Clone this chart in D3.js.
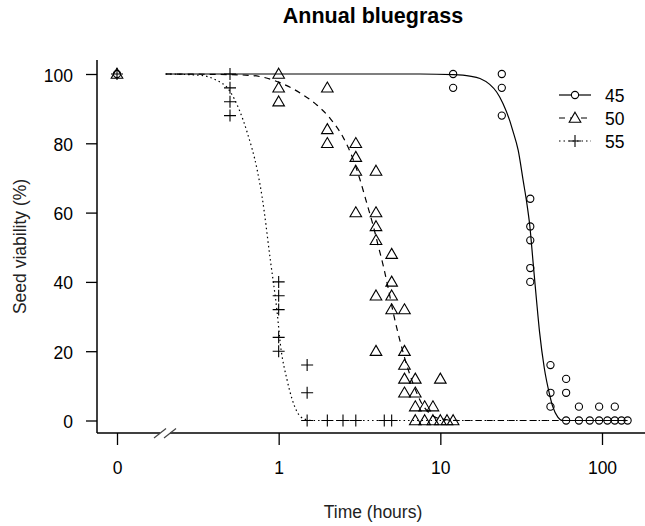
<!DOCTYPE html>
<html>
<head>
<meta charset="utf-8">
<script src="https://cdn.jsdelivr.net/npm/d3@7"></script>
<style>
  body { margin: 0; background: #fff; }
  text { font-family: "Liberation Sans", Arial, sans-serif; fill: #000; }
</style>
</head>
<body>
<div id="container"></div>
<script>
let w = 645;
let h = 526;

// observed points, time in hours (0 = untreated) and viability in %
let times45 = [0, 12, 12, 24, 24, 24, 36, 36, 36, 36, 36, 48, 48, 48, 60, 60, 60, 72, 72, 84, 96, 96, 108, 120, 120, 132, 144];
let via45   = [100, 100, 96, 100, 96, 88, 64, 56, 52, 44, 40, 16, 8, 4, 12, 8, 0, 4, 0, 0, 4, 0, 0, 4, 0, 0, 0];

let times50 = [0, 1, 1, 1, 2, 2, 2, 3, 3, 3, 3, 4, 4, 4, 4, 4, 4, 5, 5, 5, 5, 6, 6, 6, 6, 6, 7, 7, 7, 7, 8, 8, 9, 9, 10, 10, 11, 12];
let via50   = [100, 100, 96, 92, 96, 84, 80, 80, 76, 72, 60, 72, 60, 56, 52, 36, 20, 48, 40, 36, 32, 32, 20, 16, 12, 8, 12, 8, 4, 0, 4, 0, 4, 0, 12, 0, 0, 0];

let times55 = [0, 0.5, 0.5, 0.5, 0.5, 1, 1, 1, 1, 1, 1.5, 1.5, 1.5, 2, 2.5, 3, 4.5, 5];
let via55   = [100, 100, 96, 92, 88, 40, 36, 32, 24, 20, 16, 8, 0, 0, 0, 0, 0, 0];

// fitted curves
let fitT45 = [0.2, 7.5, 12, 15.2, 17.6, 20.2, 22.3, 24.4, 26.8, 28, 30.3, 32.6, 34.2, 35.8, 37.5, 39.3, 41.1, 44, 47.4, 49.6, 53.3, 57, 144];
let fitV45 = [100, 100, 99.8, 99.4, 98.7, 97, 94.8, 91.5, 86.7, 83.8, 78, 69, 63, 56, 45.5, 35, 25.5, 15, 7.5, 4, 1, 0, 0];

let fitT50 = [0.2, 0.4, 0.67, 1.02, 1.36, 1.73, 2.08, 2.52, 2.9, 3.19, 3.51, 3.86, 4.14, 4.45, 4.77, 5.12, 5.63, 6.2, 6.8, 7.5, 8.6, 10, 13, 144];
let fitV50 = [100, 99.9, 99.6, 97.5, 94.5, 91, 87.2, 81.5, 75.2, 69.4, 62.7, 55.9, 50.2, 44.4, 38, 31, 23, 16, 10.5, 5.8, 2, 0.5, 0, 0];

let fitT55 = [0.2, 0.33, 0.4, 0.5, 0.64, 0.735, 0.79, 0.89, 0.977, 1.025, 1.13, 1.3, 1.43, 1.6, 144];
let fitV55 = [100, 99.6, 98.5, 95, 83, 72.5, 64.5, 46, 31.5, 22, 11.5, 2.5, 0.5, 0, 0];

let seriesNames = ["45", "50", "55"];
let xTicks = [0.1, 1, 10, 100];
let xTickLabels = ["0", "1", "10", "100"];
let yTicks = [0, 20, 40, 60, 80, 100];

let viz = d3.select("#container")
  .append("svg")
    .attr("width", w)
    .attr("height", h)
    .style("background-color", "white")
;

// plot region
let plotLeft = 97, plotRight = 645, plotTop = 60, plotBottom = 433;

let xScale = d3.scaleLog().domain([0.1, 100]).range([117, 602]);
let xPos = (t) => t === 0 ? xScale(0.1) : xScale(t); // 0 drawn one decade below 1
let yScale = d3.scaleLinear().domain([0, 100]).range([420.5, 74]);

// L-shaped box with axis break
let frame = viz.append("g").attr("stroke", "#000").attr("stroke-width", 1.5).attr("fill", "none");
frame.append("line").attr("x1", plotLeft).attr("y1", plotTop).attr("x2", plotLeft).attr("y2", plotBottom);
frame.append("line").attr("x1", plotLeft).attr("y1", plotBottom).attr("x2", 160).attr("y2", plotBottom);
frame.append("line").attr("x1", 170).attr("y1", plotBottom).attr("x2", plotRight).attr("y2", plotBottom);
[160, 170].forEach(bx => {
  frame.append("line")
    .attr("x1", bx - 6).attr("y1", plotBottom + 5)
    .attr("x2", bx + 6).attr("y2", plotBottom - 4.5)
    .attr("stroke", "#444").attr("stroke-width", 1.2);
});

// axes
let yAxis = d3.axisLeft(yScale).tickValues(yTicks).tickSize(11).tickPadding(13);
let yG = viz.append("g").attr("transform", "translate(" + plotLeft + ",0)").call(yAxis);
yG.select(".domain").remove();
yG.selectAll("line").attr("stroke", "#000").attr("stroke-width", 1.3);
yG.selectAll("text").attr("font-size", 17.5).attr("dy", "0.4em")
  .style("font-family", '"Liberation Sans", Arial, sans-serif').attr("fill", "#000");

let xAxis = d3.axisBottom(xScale).tickValues(xTicks).tickSize(12).tickPadding(17)
  .tickFormat((d, i) => xTickLabels[i]);
let xG = viz.append("g").attr("transform", "translate(0," + plotBottom + ")").call(xAxis);
xG.select(".domain").remove();
xG.selectAll("line").attr("stroke", "#000").attr("stroke-width", 1.3);
xG.selectAll("text").attr("font-size", 17.5)
  .style("font-family", '"Liberation Sans", Arial, sans-serif').attr("fill", "#000");

// titles
viz.append("text").attr("x", 373).attr("y", 23).attr("text-anchor", "middle")
  .attr("font-size", 21.5).attr("font-weight", "bold").text("Annual bluegrass");
viz.append("text").attr("x", 373).attr("y", 518).attr("text-anchor", "middle")
  .attr("font-size", 17.5).style("fill", "#222").text("Time (hours)");
viz.append("text").attr("transform", "translate(26,246.5) rotate(-90)").attr("text-anchor", "middle")
  .attr("font-size", 17.5).style("fill", "#222").text("Seed viability (%)");

// series styles
let dashes = ["none", "6,5", "1.5,3"];
let markers = [
  (g) => g.append("circle").attr("r", 3.6),
  (g) => g.append("path").attr("d", "M0,-5.8L5.8,4.2L-5.8,4.2Z"),
  (g) => g.append("path").attr("d", "M-6,0H6M0,-6V6")
];

let fits = [[fitT45, fitV45], [fitT50, fitV50], [fitT55, fitV55]];
let obs = [[times45, via45], [times50, via50], [times55, via55]];

let line = d3.line()
  .x(d => xPos(d[0]))
  .y(d => yScale(d[1]))
  .curve(d3.curveMonotoneX);

fits.forEach((f, i) => {
  viz.append("path")
    .datum(f[0].map((t, j) => [t, f[1][j]]))
    .attr("d", line)
    .attr("fill", "none")
    .attr("stroke", "#000")
    .attr("stroke-width", 1.2)
    .attr("stroke-dasharray", dashes[i]);
});

obs.forEach((o, i) => {
  let pts = viz.selectAll(".pt" + i).data(o[0].map((t, j) => [t, o[1][j]])).enter()
    .append("g")
      .attr("class", "pt" + i)
      .attr("transform", d => "translate(" + xPos(d[0]) + "," + yScale(d[1]) + ")")
      .attr("fill", "none")
      .attr("stroke", "#000")
      .attr("stroke-width", 1.1);
  markers[i](pts);
});

// legend
let legend = viz.selectAll(".leg").data(seriesNames).enter()
  .append("g")
    .attr("class", "leg")
    .attr("transform", (d, i) => "translate(0," + (95 + i * 23) + ")");
legend.append("line")
  .attr("x1", 559).attr("x2", 591).attr("y1", 0).attr("y2", 0)
  .attr("stroke", "#000").attr("stroke-width", 1.2)
  .attr("stroke-dasharray", (d, i) => dashes[i]);
legend.each(function(d, i) {
  let g = d3.select(this).append("g").attr("transform", "translate(575,0)")
    .attr("fill", "#fff").attr("stroke", "#000").attr("stroke-width", 1.1);
  markers[i](g);
});
legend.append("text")
  .attr("x", 605).attr("y", 0).attr("dy", "0.38em")
  .attr("font-size", 17.5)
  .text(d => d);
</script>
</body>
</html>
